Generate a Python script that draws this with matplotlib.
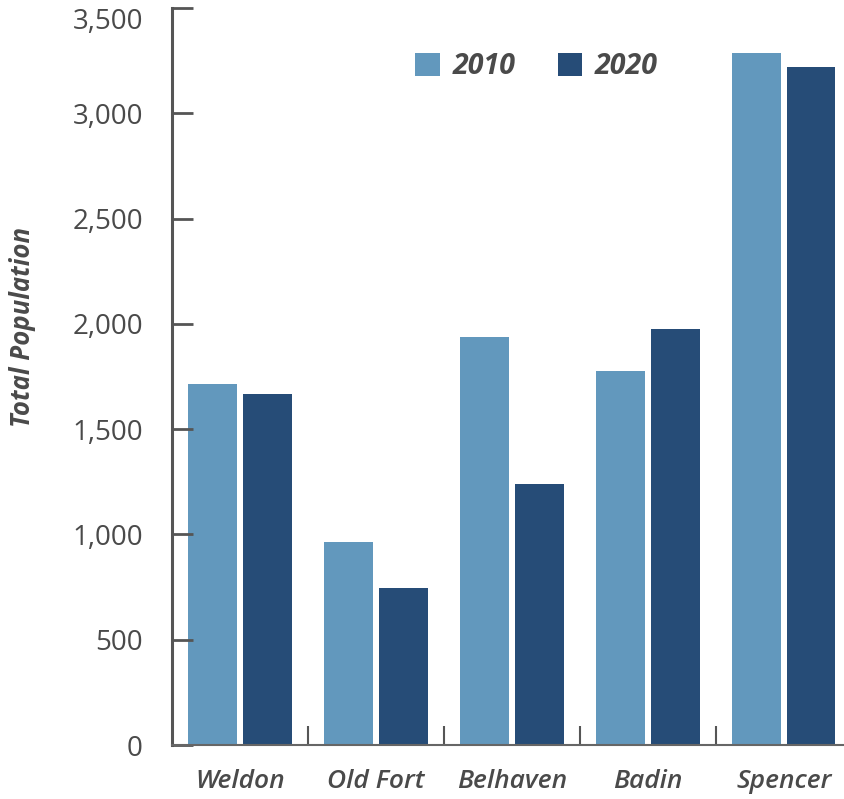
import matplotlib.pyplot as plt
import numpy as np

plt.rcParams['font.family'] = ['Open Sans', 'DejaVu Sans']

# Town populations by census year
towns = ['Weldon', 'Old Fort', 'Belhaven', 'Badin', 'Spencer']
pop_2010 = [1713, 963, 1936, 1775, 3284]
pop_2020 = [1667, 745, 1239, 1974, 3218]
yticks = [0, 500, 1000, 1500, 2000, 2500, 3000, 3500]

c2010 = '#6298bd'
c2020 = '#264c77'
txt = '#4a4a4a'

fig = plt.figure(figsize=(8.45, 7.99), dpi=100)
ax = fig.add_axes([172/845, 54/799, 673/845, 737/799])

x = np.arange(len(towns))
w = 0.36
ax.bar(x - 0.2, pop_2010, width=w, color=c2010, label='2010')
ax.bar(x + 0.2, pop_2020, width=w, color=c2020, label='2020')

ax.set_xlim(-0.5, 4.45)
ax.set_ylim(0, 3500)

ax.set_yticks(yticks)
ax.set_yticklabels([f'{v:,}' for v in yticks], fontsize=20, fontweight='medium', color=txt)
ax.tick_params(axis='y', direction='in', length=15, width=2, color='#555555', pad=21)
# keep the top label inside the figure
ax.get_yticklabels()[-1].set_va('top')

# category labels centered, dividers as minor ticks
ax.set_xticks(x)
ax.set_xticklabels(towns, fontsize=19, style='italic', fontweight='semibold', color=txt)
ax.tick_params(axis='x', which='major', length=0, pad=17)
ax.set_xticks(x[:-1] + 0.5, minor=True)
ax.tick_params(axis='x', which='minor', direction='in', length=14, width=1.5, color='#555555')

for s in ['top', 'right']:
    ax.spines[s].set_visible(False)
ax.spines['left'].set_color('#555555')
ax.spines['left'].set_linewidth(2.2)
ax.spines['bottom'].set_color('#666666')
ax.spines['bottom'].set_linewidth(1.5)

ax.set_ylabel('Total Population', fontsize=18.5, style='italic', fontweight='bold',
              color=txt, va='center')
ax.yaxis.set_label_coords(-0.222, 0.567)

leg = ax.legend(ncol=2, loc='center', bbox_to_anchor=(0.542, 0.92), frameon=False,
                prop={'size': 20.5, 'style': 'italic', 'weight': 'bold'},
                handlelength=0.85, handleheight=0.85, handletextpad=0.45, columnspacing=1.5)
for t in leg.get_texts():
    t.set_color(txt)

fig.savefig('out.png', dpi=100)
